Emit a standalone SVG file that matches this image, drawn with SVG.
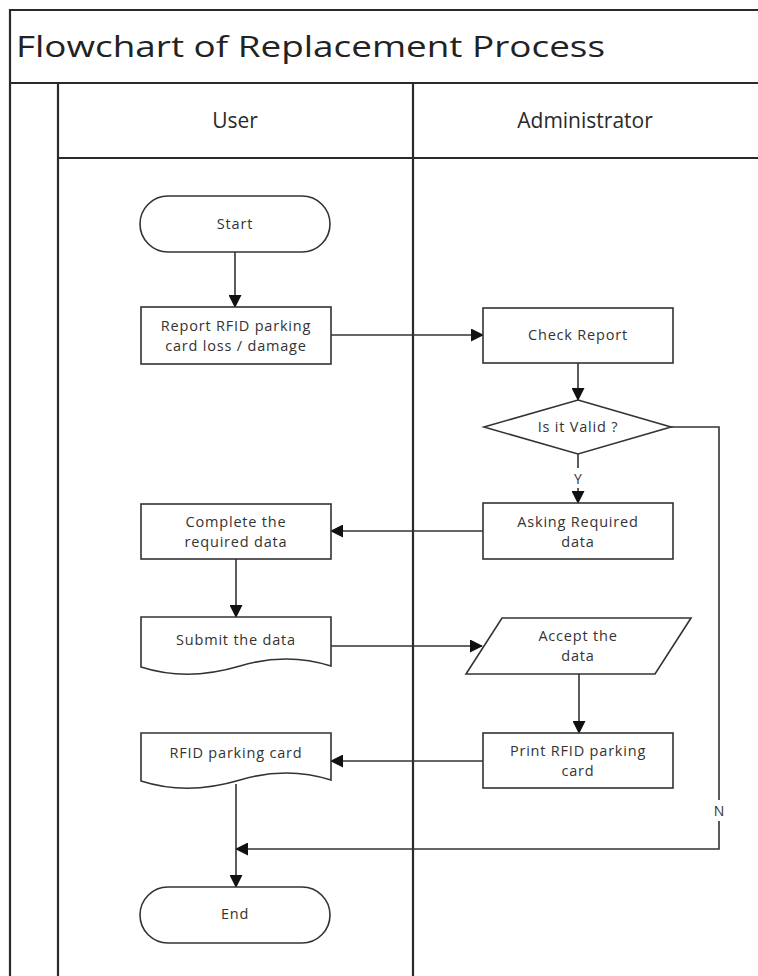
<svg xmlns="http://www.w3.org/2000/svg" width="758" height="976" viewBox="0 0 758 976">
<style>
.frame{fill:none;stroke:#2a2a2a;stroke-width:2.2}
.shape{fill:#fff;stroke:#333;stroke-width:1.6}
.conn{fill:none;stroke:#333;stroke-width:1.6}
.t{font-family:"Open Sans","Liberation Sans",sans-serif;font-size:14.5px;letter-spacing:0.8px;fill:#333;text-anchor:middle}
.h{font-family:"Open Sans","Liberation Sans",sans-serif;font-size:21px;fill:#2a2a2a;text-anchor:middle}
.lbl{font-family:"Open Sans","Liberation Sans",sans-serif;font-size:14px;fill:#333;text-anchor:middle}
</style>
<defs>
<marker id="arr" markerWidth="13" markerHeight="13" refX="12" refY="6.5" orient="auto" markerUnits="userSpaceOnUse">
<path d="M0,0 L13,6.5 L0,13 Z" fill="#111"/>
</marker>
</defs>
<rect width="758" height="976" fill="#fff"/>
<g id="frame">
<path class="frame" d="M758,10 H10 V976 M10,83 H758 M58,158 H758 M58,83 V976 M413,83 V976"/>
<text x="16" y="57" font-family="'Open Sans','Liberation Sans',sans-serif" font-size="30" fill="#222" textLength="589" lengthAdjust="spacingAndGlyphs">Flowchart of Replacement Process</text>
<text class="h" x="235" y="128">User</text>
<text class="h" x="585" y="128">Administrator</text>
</g>
<g id="connectors">
<path class="conn" d="M235,252 V307" marker-end="url(#arr)"/>
<path class="conn" d="M331,335 H483" marker-end="url(#arr)"/>
<path class="conn" d="M578,363 V400" marker-end="url(#arr)"/>
<path class="conn" d="M578,454 V468"/>
<path class="conn" d="M578,488 V503" marker-end="url(#arr)"/>
<text class="lbl" x="578" y="484">Y</text>
<path class="conn" d="M483,531 H331" marker-end="url(#arr)"/>
<path class="conn" d="M236,559 V617" marker-end="url(#arr)"/>
<path class="conn" d="M331,646 H482" marker-end="url(#arr)"/>
<path class="conn" d="M579,674 V733" marker-end="url(#arr)"/>
<path class="conn" d="M483,761 H331" marker-end="url(#arr)"/>
<path class="conn" d="M671,427 H719 V800"/>
<text class="lbl" x="719" y="816">N</text>
<path class="conn" d="M719,821 V849 H236" marker-end="url(#arr)"/>
<path class="conn" d="M236,784 V887" marker-end="url(#arr)"/>
</g>
<g id="start">
<rect class="shape" x="140" y="196" width="190" height="56" rx="28"/>
<text class="t" x="235" y="229">Start</text>
</g>
<g id="report">
<rect class="shape" x="141" y="307" width="190" height="57"/>
<text class="t" x="236" y="331">Report RFID parking</text>
<text class="t" x="236" y="351">card loss / damage</text>
</g>
<g id="check">
<rect class="shape" x="483" y="308" width="190" height="55"/>
<text class="t" x="578" y="340">Check Report</text>
</g>
<g id="valid">
<polygon class="shape" points="578,400 671,427 578,454 484,427"/>
<text class="t" x="578" y="432">Is it Valid ?</text>
</g>
<g id="asking">
<rect class="shape" x="483" y="503" width="190" height="56"/>
<text class="t" x="578" y="527">Asking Required</text>
<text class="t" x="578" y="547">data</text>
</g>
<g id="complete">
<rect class="shape" x="141" y="504" width="190" height="55"/>
<text class="t" x="236" y="527">Complete the</text>
<text class="t" x="236" y="547">required data</text>
</g>
<g id="submit">
<path class="shape" d="M141,617 H331 V666 C300,656 270,657 240,666 C210,675 175,678 141,667 Z"/>
<text class="t" x="236" y="645">Submit the data</text>
</g>
<g id="accept">
<polygon class="shape" points="502,618 691,618 655,674 466,674"/>
<text class="t" x="578" y="641">Accept the</text>
<text class="t" x="578" y="661">data</text>
</g>
<g id="print">
<rect class="shape" x="483" y="733" width="190" height="55"/>
<text class="t" x="578" y="756">Print RFID parking</text>
<text class="t" x="578" y="776">card</text>
</g>
<g id="rfidcard">
<path class="shape" d="M141,733 H331 V780 C300,770 270,771 240,780 C210,789 175,792 141,781 Z"/>
<text class="t" x="236" y="758">RFID parking card</text>
</g>
<g id="end">
<rect class="shape" x="140" y="887" width="190" height="56" rx="28"/>
<text class="t" x="235" y="919">End</text>
</g>
</svg>
